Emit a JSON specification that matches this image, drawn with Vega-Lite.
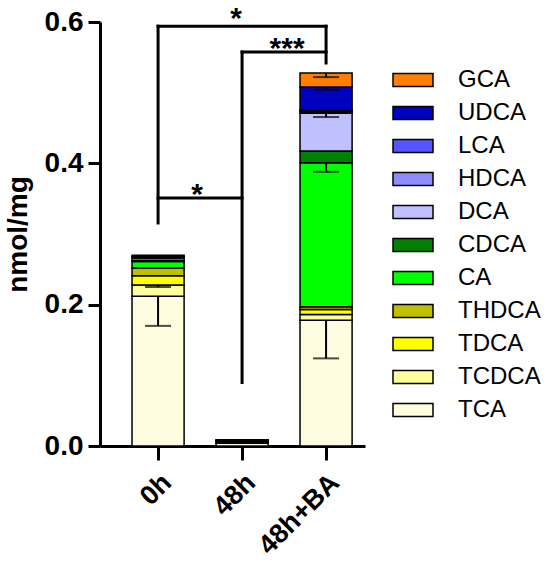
{
  "$schema": "https://vega.github.io/schema/vega-lite/v6.json",
  "width": 265,
  "height": 424,
  "autosize": {"type": "none"},
  "padding": {"left": 100, "top": 22, "right": 186, "bottom": 122},
  "config": {"view": {"stroke": null}, "font": "Liberation Sans"},
  "datasets": {
    "bars": [
      {"group": "0h", "acid": "TCA", "order": 1, "value": 0.212},
      {"group": "0h", "acid": "TCDCA", "order": 2, "value": 0.016},
      {"group": "0h", "acid": "TDCA", "order": 3, "value": 0.013},
      {"group": "0h", "acid": "THDCA", "order": 4, "value": 0.011},
      {"group": "0h", "acid": "CA", "order": 5, "value": 0.009},
      {"group": "0h", "acid": "CDCA", "order": 6, "value": 0.002},
      {"group": "0h", "acid": "DCA", "order": 7, "value": 0.003},
      {"group": "0h", "acid": "UDCA", "order": 10, "value": 0.002},
      {"group": "0h", "acid": "GCA", "order": 11, "value": 0.002},
      {"group": "48h", "acid": "TCA", "order": 1, "value": 0.004},
      {"group": "48h", "acid": "TCDCA", "order": 2, "value": 0.002},
      {"group": "48h", "acid": "TDCA", "order": 3, "value": 0.001},
      {"group": "48h", "acid": "THDCA", "order": 4, "value": 0.001},
      {"group": "48h", "acid": "CA", "order": 5, "value": 0.001},
      {"group": "48h+BA", "acid": "TCA", "order": 1, "value": 0.178},
      {"group": "48h+BA", "acid": "TCDCA", "order": 2, "value": 0.008},
      {"group": "48h+BA", "acid": "TDCA", "order": 3, "value": 0.007},
      {"group": "48h+BA", "acid": "THDCA", "order": 4, "value": 0.004},
      {"group": "48h+BA", "acid": "CA", "order": 5, "value": 0.204},
      {"group": "48h+BA", "acid": "CDCA", "order": 6, "value": 0.0165},
      {"group": "48h+BA", "acid": "DCA", "order": 7, "value": 0.0535},
      {"group": "48h+BA", "acid": "HDCA", "order": 8, "value": 0.002},
      {"group": "48h+BA", "acid": "LCA", "order": 9, "value": 0.002},
      {"group": "48h+BA", "acid": "UDCA", "order": 10, "value": 0.033},
      {"group": "48h+BA", "acid": "GCA", "order": 11, "value": 0.02}
    ],
    "err": [
      {"group": "0h", "acid": "TCA", "lo": 0.17, "hi": 0.212},
      {"group": "0h", "acid": "TCDCA", "lo": 0.225, "hi": 0.228},
      {"group": "0h", "acid": "GCA", "lo": 0.267, "hi": 0.27},
      {"group": "48h+BA", "acid": "TCA", "lo": 0.124, "hi": 0.178},
      {"group": "48h+BA", "acid": "CA", "lo": 0.388, "hi": 0.401},
      {"group": "48h+BA", "acid": "DCA", "lo": 0.4655, "hi": 0.471},
      {"group": "48h+BA", "acid": "UDCA", "lo": 0.504, "hi": 0.508},
      {"group": "48h+BA", "acid": "GCA", "lo": 0.522, "hi": 0.528}
    ],
    "brackets": [
      {"a": "0h", "b": "48h+BA", "y1": 0.594, "y2": 0.594},
      {"a": "48h", "b": "48h+BA", "y1": 0.5575, "y2": 0.5575},
      {"a": "0h", "b": "48h", "y1": 0.351, "y2": 0.351},
      {"a": "0h", "b": "0h", "y1": 0.594, "y2": 0.3156},
      {"a": "48h+BA", "b": "48h+BA", "y1": 0.594, "y2": 0.542},
      {"a": "48h", "b": "48h", "y1": 0.5575, "y2": 0.09}
    ],
    "stars": [
      {"group": "48h", "label": "*", "y": 0.594},
      {"group": "48h", "label": "***", "y": 0.5575},
      {"group": "0h", "label": "*", "y": 0.351}
    ]
  },
  "layer": [
    {
      "data": {"name": "bars"},
      "mark": {"type": "bar", "stroke": "black", "strokeWidth": 1.5},
      "encoding": {
        "x": {
          "field": "group", "type": "nominal",
          "scale": {"domain": ["0h", "48h", "48h+BA"], "paddingInner": 0.38, "paddingOuter": 0.2674, "align": 0.713},
          "axis": {
            "title": null, "domainColor": "black", "domainWidth": 3, "tickColor": "black", "tickWidth": 3, "tickSize": 14,
            "labelAngle": -45, "labelAlign": "right", "labelBaseline": "top", "labelFontSize": 27, "labelFontWeight": "bold",
            "labelColor": "black", "labelPadding": 9
          }
        },
        "y": {
          "field": "value", "type": "quantitative", "stack": "zero",
          "scale": {"domain": [0, 0.6], "nice": false},
          "axis": {
            "title": "nmol/mg", "titleFontSize": 28, "titleFontWeight": "bold", "titleColor": "black", "titlePadding": 12,
            "values": [0, 0.2, 0.4, 0.6], "format": ".1f", "grid": false,
            "domainColor": "black", "domainWidth": 3, "tickColor": "black", "tickWidth": 3, "tickSize": 12,
            "labelFontSize": 28, "labelFontWeight": "bold", "labelColor": "black", "labelPadding": 5
          }
        },
        "color": {
          "field": "acid", "type": "nominal",
          "scale": {
            "domain": ["GCA", "UDCA", "LCA", "HDCA", "DCA", "CDCA", "CA", "THDCA", "TDCA", "TCDCA", "TCA"],
            "range": ["#FF8000", "#0000BF", "#5555FF", "#8C8CFF", "#C0C0FF", "#007F00", "#00FF00", "#BFBF00", "#FFFF00", "#FFFF9C", "#FFFDE0"]
          },
          "legend": {
            "orient": "none", "legendX": 301, "legendY": 46, "title": null, "padding": 0,
            "symbolType": "M-2,-0.65H2V0.65H-2Z", "symbolSize": 400, "symbolStrokeColor": "black", "symbolStrokeWidth": 1.5,
            "symbolOpacity": 1, "labelFontSize": 24, "labelColor": "black", "labelOffset": 33, "rowPadding": 9
          }
        },
        "order": {"field": "order", "type": "quantitative"}
      }
    },
    {
      "data": {"name": "err"},
      "mark": {"type": "rule", "color": "black", "strokeWidth": 2},
      "encoding": {
        "x": {"field": "group", "type": "nominal"},
        "y": {"field": "lo", "type": "quantitative"},
        "y2": {"field": "hi"}
      }
    },
    {
      "data": {"name": "err"},
      "mark": {"type": "tick", "color": "black", "thickness": 2, "size": 26, "orient": "horizontal"},
      "encoding": {
        "x": {"field": "group", "type": "nominal"},
        "y": {"field": "lo", "type": "quantitative"}
      }
    },
    {
      "data": {"name": "brackets"},
      "mark": {"type": "rule", "color": "black", "strokeWidth": 3, "strokeCap": "square"},
      "encoding": {
        "x": {"field": "a", "type": "nominal"},
        "x2": {"field": "b"},
        "y": {"field": "y1", "type": "quantitative"},
        "y2": {"field": "y2"}
      }
    },
    {
      "data": {"name": "stars"},
      "transform": [{"filter": "datum.label === '***'"}],
      "mark": {"type": "text", "fontSize": 30, "fontWeight": "bold", "color": "black", "baseline": "alphabetic", "dx": 45, "dy": 6},
      "encoding": {
        "x": {"field": "group", "type": "nominal"},
        "y": {"field": "y", "type": "quantitative"},
        "text": {"field": "label"}
      }
    },
    {
      "data": {"name": "stars"},
      "transform": [{"filter": "datum.label === '*' && datum.group === '48h'"}],
      "mark": {"type": "text", "fontSize": 30, "fontWeight": "bold", "color": "black", "baseline": "alphabetic", "dx": -6, "dy": 2},
      "encoding": {
        "x": {"field": "group", "type": "nominal"},
        "y": {"field": "y", "type": "quantitative"},
        "text": {"field": "label"}
      }
    },
    {
      "data": {"name": "stars"},
      "transform": [{"filter": "datum.label === '*' && datum.group === '0h'"}],
      "mark": {"type": "text", "fontSize": 30, "fontWeight": "bold", "color": "black", "baseline": "alphabetic", "dx": 39, "dy": 6},
      "encoding": {
        "x": {"field": "group", "type": "nominal"},
        "y": {"field": "y", "type": "quantitative"},
        "text": {"field": "label"}
      }
    }
  ]
}
